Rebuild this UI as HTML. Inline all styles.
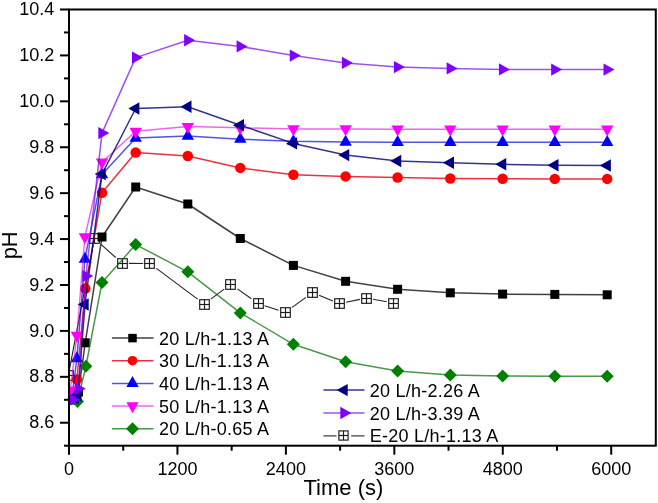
<!DOCTYPE html><html><head><meta charset="utf-8"><style>html,body{margin:0;padding:0;background:#fff;}body{width:658px;height:503px;overflow:hidden;}svg{display:block;font-family:"Liberation Sans",sans-serif;will-change:transform;}</style></head><body>
<svg width="658" height="503" viewBox="0 0 658 503">
<rect width="658" height="503" fill="#fff"/>
<g clip-path="url(#plotclip)">
<g stroke="#222" stroke-width="1.1"><line x1="69.56" y1="368.90" x2="93.14" y2="245.10"/><line x1="101.00" y1="244.39" x2="115.70" y2="257.51"/><line x1="128.90" y1="263.42" x2="143.20" y2="263.48"/><line x1="156.40" y1="268.43" x2="197.60" y2="299.17"/><line x1="210.80" y1="299.16" x2="224.20" y2="289.14"/><line x1="237.40" y1="288.88" x2="251.40" y2="298.82"/><line x1="264.60" y1="305.68" x2="278.60" y2="310.32"/><line x1="291.80" y1="307.66" x2="305.90" y2="297.34"/><line x1="319.10" y1="295.21" x2="332.90" y2="300.89"/><line x1="346.10" y1="302.23" x2="359.90" y2="299.37"/><line x1="373.10" y1="299.23" x2="386.70" y2="301.77"/></g>
<g fill="none" stroke="#1a1a1a" stroke-width="1.15"><rect x="63.70" y="370.70" width="9.6" height="9.6" fill="#fff"/><line x1="68.50" y1="370.70" x2="68.50" y2="380.30"/><line x1="63.70" y1="375.50" x2="73.30" y2="375.50"/></g>
<g fill="none" stroke="#1a1a1a" stroke-width="1.15"><rect x="89.70" y="233.70" width="9.6" height="9.6" fill="#fff"/><line x1="94.50" y1="233.70" x2="94.50" y2="243.30"/><line x1="89.70" y1="238.50" x2="99.30" y2="238.50"/></g>
<g fill="none" stroke="#1a1a1a" stroke-width="1.15"><rect x="117.70" y="258.70" width="9.6" height="9.6" fill="#fff"/><line x1="122.50" y1="258.70" x2="122.50" y2="268.30"/><line x1="117.70" y1="263.50" x2="127.30" y2="263.50"/></g>
<g fill="none" stroke="#1a1a1a" stroke-width="1.15"><rect x="144.70" y="258.70" width="9.6" height="9.6" fill="#fff"/><line x1="149.50" y1="258.70" x2="149.50" y2="268.30"/><line x1="144.70" y1="263.50" x2="154.30" y2="263.50"/></g>
<g fill="none" stroke="#1a1a1a" stroke-width="1.15"><rect x="199.70" y="299.70" width="9.6" height="9.6" fill="#fff"/><line x1="204.50" y1="299.70" x2="204.50" y2="309.30"/><line x1="199.70" y1="304.50" x2="209.30" y2="304.50"/></g>
<g fill="none" stroke="#1a1a1a" stroke-width="1.15"><rect x="225.70" y="279.70" width="9.6" height="9.6" fill="#fff"/><line x1="230.50" y1="279.70" x2="230.50" y2="289.30"/><line x1="225.70" y1="284.50" x2="235.30" y2="284.50"/></g>
<g fill="none" stroke="#1a1a1a" stroke-width="1.15"><rect x="253.70" y="298.70" width="9.6" height="9.6" fill="#fff"/><line x1="258.50" y1="298.70" x2="258.50" y2="308.30"/><line x1="253.70" y1="303.50" x2="263.30" y2="303.50"/></g>
<g fill="none" stroke="#1a1a1a" stroke-width="1.15"><rect x="280.70" y="307.70" width="9.6" height="9.6" fill="#fff"/><line x1="285.50" y1="307.70" x2="285.50" y2="317.30"/><line x1="280.70" y1="312.50" x2="290.30" y2="312.50"/></g>
<g fill="none" stroke="#1a1a1a" stroke-width="1.15"><rect x="307.70" y="287.70" width="9.6" height="9.6" fill="#fff"/><line x1="312.50" y1="287.70" x2="312.50" y2="297.30"/><line x1="307.70" y1="292.50" x2="317.30" y2="292.50"/></g>
<g fill="none" stroke="#1a1a1a" stroke-width="1.15"><rect x="334.70" y="298.70" width="9.6" height="9.6" fill="#fff"/><line x1="339.50" y1="298.70" x2="339.50" y2="308.30"/><line x1="334.70" y1="303.50" x2="344.30" y2="303.50"/></g>
<g fill="none" stroke="#1a1a1a" stroke-width="1.15"><rect x="361.70" y="293.70" width="9.6" height="9.6" fill="#fff"/><line x1="366.50" y1="293.70" x2="366.50" y2="303.30"/><line x1="361.70" y1="298.50" x2="371.30" y2="298.50"/></g>
<g fill="none" stroke="#1a1a1a" stroke-width="1.15"><rect x="388.70" y="298.70" width="9.6" height="9.6" fill="#fff"/><line x1="393.50" y1="298.70" x2="393.50" y2="308.30"/><line x1="388.70" y1="303.50" x2="398.30" y2="303.50"/></g>
<polyline points="73.00,400.00 78.50,392.00 85.20,342.80 102.00,237.00 135.70,187.00 187.80,204.00 240.30,238.50 293.40,265.40 345.60,281.30 397.60,289.30 450.30,292.80 502.60,294.10 554.80,294.40 607.20,294.80" fill="none" stroke="#000" stroke-opacity="0.75" stroke-width="1.5" stroke-linejoin="round"/>
<rect x="68.50" y="395.50" width="9" height="9" fill="#000"/>
<rect x="74.00" y="387.50" width="9" height="9" fill="#000"/>
<rect x="80.70" y="338.30" width="9" height="9" fill="#000"/>
<rect x="97.50" y="232.50" width="9" height="9" fill="#000"/>
<rect x="131.20" y="182.50" width="9" height="9" fill="#000"/>
<rect x="183.30" y="199.50" width="9" height="9" fill="#000"/>
<rect x="235.80" y="234.00" width="9" height="9" fill="#000"/>
<rect x="288.90" y="260.90" width="9" height="9" fill="#000"/>
<rect x="341.10" y="276.80" width="9" height="9" fill="#000"/>
<rect x="393.10" y="284.80" width="9" height="9" fill="#000"/>
<rect x="445.80" y="288.30" width="9" height="9" fill="#000"/>
<rect x="498.10" y="289.60" width="9" height="9" fill="#000"/>
<rect x="550.30" y="289.90" width="9" height="9" fill="#000"/>
<rect x="602.70" y="290.30" width="9" height="9" fill="#000"/>
<polyline points="72.50,399.00 76.90,379.40 85.30,288.60 102.00,192.70 135.70,152.50 187.80,156.00 240.30,167.90 293.40,174.80 345.60,176.40 397.60,177.50 450.30,178.50 502.60,178.80 554.80,178.90 607.20,178.90" fill="none" stroke="#e00010" stroke-opacity="0.8" stroke-width="1.5" stroke-linejoin="round"/>
<circle cx="72.50" cy="399.00" r="5.25" fill="#f00"/>
<circle cx="76.90" cy="379.40" r="5.25" fill="#f00"/>
<circle cx="85.30" cy="288.60" r="5.25" fill="#f00"/>
<circle cx="102.00" cy="192.70" r="5.25" fill="#f00"/>
<circle cx="135.70" cy="152.50" r="5.25" fill="#f00"/>
<circle cx="187.80" cy="156.00" r="5.25" fill="#f00"/>
<circle cx="240.30" cy="167.90" r="5.25" fill="#f00"/>
<circle cx="293.40" cy="174.80" r="5.25" fill="#f00"/>
<circle cx="345.60" cy="176.40" r="5.25" fill="#f00"/>
<circle cx="397.60" cy="177.50" r="5.25" fill="#f00"/>
<circle cx="450.30" cy="178.50" r="5.25" fill="#f00"/>
<circle cx="502.60" cy="178.80" r="5.25" fill="#f00"/>
<circle cx="554.80" cy="178.90" r="5.25" fill="#f00"/>
<circle cx="607.20" cy="178.90" r="5.25" fill="#f00"/>
<polyline points="72.00,396.00 76.90,358.50 84.90,259.00 102.00,174.50 135.70,138.00 187.80,136.00 240.30,139.20 293.40,141.30 345.60,142.00 397.60,142.30 450.30,142.30 502.60,142.30 554.80,142.30 607.20,142.30" fill="none" stroke="#0000d8" stroke-opacity="0.68" stroke-width="1.5" stroke-linejoin="round"/>
<polygon points="72.00,388.67 65.80,399.67 78.20,399.67" fill="#00f"/>
<polygon points="76.90,351.17 70.70,362.17 83.10,362.17" fill="#00f"/>
<polygon points="84.90,251.67 78.70,262.67 91.10,262.67" fill="#00f"/>
<polygon points="102.00,167.17 95.80,178.17 108.20,178.17" fill="#00f"/>
<polygon points="135.70,130.67 129.50,141.67 141.90,141.67" fill="#00f"/>
<polygon points="187.80,128.67 181.60,139.67 194.00,139.67" fill="#00f"/>
<polygon points="240.30,131.87 234.10,142.87 246.50,142.87" fill="#00f"/>
<polygon points="293.40,133.97 287.20,144.97 299.60,144.97" fill="#00f"/>
<polygon points="345.60,134.67 339.40,145.67 351.80,145.67" fill="#00f"/>
<polygon points="397.60,134.97 391.40,145.97 403.80,145.97" fill="#00f"/>
<polygon points="450.30,134.97 444.10,145.97 456.50,145.97" fill="#00f"/>
<polygon points="502.60,134.97 496.40,145.97 508.80,145.97" fill="#00f"/>
<polygon points="554.80,134.97 548.60,145.97 561.00,145.97" fill="#00f"/>
<polygon points="607.20,134.97 601.00,145.97 613.40,145.97" fill="#00f"/>
<polyline points="70.30,390.50 76.90,335.50 84.90,236.80 102.00,162.20 135.70,131.30 187.80,126.60 240.30,127.80 293.40,128.90 345.60,129.00 397.60,129.20 450.30,129.20 502.60,129.20 554.80,129.20 607.20,129.20" fill="none" stroke="#e000e0" stroke-opacity="0.6" stroke-width="1.5" stroke-linejoin="round"/>
<polygon points="70.30,397.83 64.10,386.83 76.50,386.83" fill="#f0f"/>
<polygon points="76.90,342.83 70.70,331.83 83.10,331.83" fill="#f0f"/>
<polygon points="84.90,244.13 78.70,233.13 91.10,233.13" fill="#f0f"/>
<polygon points="102.00,169.53 95.80,158.53 108.20,158.53" fill="#f0f"/>
<polygon points="135.70,138.63 129.50,127.63 141.90,127.63" fill="#f0f"/>
<polygon points="187.80,133.93 181.60,122.93 194.00,122.93" fill="#f0f"/>
<polygon points="240.30,135.13 234.10,124.13 246.50,124.13" fill="#f0f"/>
<polygon points="293.40,136.23 287.20,125.23 299.60,125.23" fill="#f0f"/>
<polygon points="345.60,136.33 339.40,125.33 351.80,125.33" fill="#f0f"/>
<polygon points="397.60,136.53 391.40,125.53 403.80,125.53" fill="#f0f"/>
<polygon points="450.30,136.53 444.10,125.53 456.50,125.53" fill="#f0f"/>
<polygon points="502.60,136.53 496.40,125.53 508.80,125.53" fill="#f0f"/>
<polygon points="554.80,136.53 548.60,125.53 561.00,125.53" fill="#f0f"/>
<polygon points="607.20,136.53 601.00,125.53 613.40,125.53" fill="#f0f"/>
<polyline points="77.50,401.50 85.90,366.30 102.00,282.50 135.70,244.60 187.80,271.80 240.30,312.90 293.40,344.30 345.60,361.80 397.60,371.00 450.30,374.90 502.60,376.00 554.80,376.20 607.20,376.20" fill="none" stroke="#007000" stroke-opacity="0.72" stroke-width="1.5" stroke-linejoin="round"/>
<polygon points="77.50,395.00 84.00,401.50 77.50,408.00 71.00,401.50" fill="#008000"/>
<polygon points="85.90,359.80 92.40,366.30 85.90,372.80 79.40,366.30" fill="#008000"/>
<polygon points="102.00,276.00 108.50,282.50 102.00,289.00 95.50,282.50" fill="#008000"/>
<polygon points="135.70,238.10 142.20,244.60 135.70,251.10 129.20,244.60" fill="#008000"/>
<polygon points="187.80,265.30 194.30,271.80 187.80,278.30 181.30,271.80" fill="#008000"/>
<polygon points="240.30,306.40 246.80,312.90 240.30,319.40 233.80,312.90" fill="#008000"/>
<polygon points="293.40,337.80 299.90,344.30 293.40,350.80 286.90,344.30" fill="#008000"/>
<polygon points="345.60,355.30 352.10,361.80 345.60,368.30 339.10,361.80" fill="#008000"/>
<polygon points="397.60,364.50 404.10,371.00 397.60,377.50 391.10,371.00" fill="#008000"/>
<polygon points="450.30,368.40 456.80,374.90 450.30,381.40 443.80,374.90" fill="#008000"/>
<polygon points="502.60,369.50 509.10,376.00 502.60,382.50 496.10,376.00" fill="#008000"/>
<polygon points="554.80,369.70 561.30,376.20 554.80,382.70 548.30,376.20" fill="#008000"/>
<polygon points="607.20,369.70 613.70,376.20 607.20,382.70 600.70,376.20" fill="#008000"/>
<polyline points="75.00,398.00 77.90,395.30 85.00,304.50 102.00,174.10 135.70,108.50 187.80,106.80 240.30,125.20 293.40,143.40 345.60,155.10 397.60,161.00 450.30,162.80 502.60,164.30 554.80,165.20 607.20,165.50" fill="none" stroke="#000070" stroke-opacity="0.8" stroke-width="1.5" stroke-linejoin="round"/>
<polygon points="67.67,398.00 78.67,391.80 78.67,404.20" fill="#000080"/>
<polygon points="70.57,395.30 81.57,389.10 81.57,401.50" fill="#000080"/>
<polygon points="77.67,304.50 88.67,298.30 88.67,310.70" fill="#000080"/>
<polygon points="94.67,174.10 105.67,167.90 105.67,180.30" fill="#000080"/>
<polygon points="128.37,108.50 139.37,102.30 139.37,114.70" fill="#000080"/>
<polygon points="180.47,106.80 191.47,100.60 191.47,113.00" fill="#000080"/>
<polygon points="232.97,125.20 243.97,119.00 243.97,131.40" fill="#000080"/>
<polygon points="286.07,143.40 297.07,137.20 297.07,149.60" fill="#000080"/>
<polygon points="338.27,155.10 349.27,148.90 349.27,161.30" fill="#000080"/>
<polygon points="390.27,161.00 401.27,154.80 401.27,167.20" fill="#000080"/>
<polygon points="442.97,162.80 453.97,156.60 453.97,169.00" fill="#000080"/>
<polygon points="495.27,164.30 506.27,158.10 506.27,170.50" fill="#000080"/>
<polygon points="547.47,165.20 558.47,159.00 558.47,171.40" fill="#000080"/>
<polygon points="599.87,165.50 610.87,159.30 610.87,171.70" fill="#000080"/>
<polyline points="73.00,399.70 78.40,388.80 85.90,276.10 102.00,133.10 135.70,57.60 187.80,40.20 240.30,46.40 293.40,55.60 345.60,62.90 397.60,67.10 450.30,68.40 502.60,69.40 554.80,69.60 607.20,69.60" fill="none" stroke="#7000e0" stroke-opacity="0.68" stroke-width="1.5" stroke-linejoin="round"/>
<polygon points="80.33,399.70 69.33,393.50 69.33,405.90" fill="#8000ff"/>
<polygon points="85.73,388.80 74.73,382.60 74.73,395.00" fill="#8000ff"/>
<polygon points="93.23,276.10 82.23,269.90 82.23,282.30" fill="#8000ff"/>
<polygon points="109.33,133.10 98.33,126.90 98.33,139.30" fill="#8000ff"/>
<polygon points="143.03,57.60 132.03,51.40 132.03,63.80" fill="#8000ff"/>
<polygon points="195.13,40.20 184.13,34.00 184.13,46.40" fill="#8000ff"/>
<polygon points="247.63,46.40 236.63,40.20 236.63,52.60" fill="#8000ff"/>
<polygon points="300.73,55.60 289.73,49.40 289.73,61.80" fill="#8000ff"/>
<polygon points="352.93,62.90 341.93,56.70 341.93,69.10" fill="#8000ff"/>
<polygon points="404.93,67.10 393.93,60.90 393.93,73.30" fill="#8000ff"/>
<polygon points="457.63,68.40 446.63,62.20 446.63,74.60" fill="#8000ff"/>
<polygon points="509.93,69.40 498.93,63.20 498.93,75.60" fill="#8000ff"/>
<polygon points="562.13,69.60 551.13,63.40 551.13,75.80" fill="#8000ff"/>
<polygon points="614.53,69.60 603.53,63.40 603.53,75.80" fill="#8000ff"/>
</g>
<rect x="69.0" y="9.5" width="586.8" height="436.20" fill="none" stroke="#000" stroke-width="2"/>
<g stroke="#000" stroke-width="2"><line x1="60.0" y1="9.50" x2="69.0" y2="9.50"/><line x1="64.0" y1="32.46" x2="69.0" y2="32.46"/><line x1="60.0" y1="55.42" x2="69.0" y2="55.42"/><line x1="64.0" y1="78.37" x2="69.0" y2="78.37"/><line x1="60.0" y1="101.33" x2="69.0" y2="101.33"/><line x1="64.0" y1="124.29" x2="69.0" y2="124.29"/><line x1="60.0" y1="147.25" x2="69.0" y2="147.25"/><line x1="64.0" y1="170.21" x2="69.0" y2="170.21"/><line x1="60.0" y1="193.16" x2="69.0" y2="193.16"/><line x1="64.0" y1="216.12" x2="69.0" y2="216.12"/><line x1="60.0" y1="239.08" x2="69.0" y2="239.08"/><line x1="64.0" y1="262.04" x2="69.0" y2="262.04"/><line x1="60.0" y1="285.00" x2="69.0" y2="285.00"/><line x1="64.0" y1="307.95" x2="69.0" y2="307.95"/><line x1="60.0" y1="330.91" x2="69.0" y2="330.91"/><line x1="64.0" y1="353.87" x2="69.0" y2="353.87"/><line x1="60.0" y1="376.83" x2="69.0" y2="376.83"/><line x1="64.0" y1="399.79" x2="69.0" y2="399.79"/><line x1="60.0" y1="422.74" x2="69.0" y2="422.74"/><line x1="64.0" y1="445.70" x2="69.0" y2="445.70"/><line x1="69.00" y1="445.70" x2="69.00" y2="454.70"/><line x1="123.22" y1="445.70" x2="123.22" y2="450.70"/><line x1="177.44" y1="445.70" x2="177.44" y2="454.70"/><line x1="231.67" y1="445.70" x2="231.67" y2="450.70"/><line x1="285.89" y1="445.70" x2="285.89" y2="454.70"/><line x1="340.11" y1="445.70" x2="340.11" y2="450.70"/><line x1="394.33" y1="445.70" x2="394.33" y2="454.70"/><line x1="448.55" y1="445.70" x2="448.55" y2="450.70"/><line x1="502.78" y1="445.70" x2="502.78" y2="454.70"/><line x1="557.00" y1="445.70" x2="557.00" y2="450.70"/><line x1="611.22" y1="445.70" x2="611.22" y2="454.70"/></g>
<g font-size="18" fill="#000"><text x="54.2" y="15.10" text-anchor="end">10.4</text><text x="54.2" y="61.02" text-anchor="end">10.2</text><text x="54.2" y="106.93" text-anchor="end">10.0</text><text x="54.2" y="152.85" text-anchor="end">9.8</text><text x="54.2" y="198.76" text-anchor="end">9.6</text><text x="54.2" y="244.68" text-anchor="end">9.4</text><text x="54.2" y="290.60" text-anchor="end">9.2</text><text x="54.2" y="336.51" text-anchor="end">9.0</text><text x="54.2" y="382.43" text-anchor="end">8.8</text><text x="54.2" y="428.34" text-anchor="end">8.6</text><text x="69.00" y="475.0" text-anchor="middle">0</text><text x="177.44" y="475.0" text-anchor="middle">1200</text><text x="285.89" y="475.0" text-anchor="middle">2400</text><text x="394.33" y="475.0" text-anchor="middle">3600</text><text x="502.78" y="475.0" text-anchor="middle">4800</text><text x="611.22" y="475.0" text-anchor="middle">6000</text></g>
<text x="303.5" y="495.3" font-size="22" fill="#000">Time (s)</text>
<text transform="translate(17.1,245.3) rotate(-90)" text-anchor="middle" font-size="22" fill="#000">pH</text>
<line x1="111.9" y1="338.1" x2="153.5" y2="338.1" stroke="#000" stroke-opacity="0.75" stroke-width="1.5"/>
<rect x="128.25" y="333.85" width="8.5" height="8.5" fill="#000"/>
<text x="159.1" y="344.60" font-size="18" letter-spacing="0.24" fill="#000">20 L/h-1.13 A</text>
<line x1="111.9" y1="360.7" x2="153.5" y2="360.7" stroke="#e00010" stroke-opacity="0.8" stroke-width="1.5"/>
<circle cx="132.50" cy="360.70" r="4.8" fill="#f00"/>
<text x="159.1" y="367.20" font-size="18" letter-spacing="0.24" fill="#000">30 L/h-1.13 A</text>
<line x1="111.9" y1="383.4" x2="153.5" y2="383.4" stroke="#0000d8" stroke-opacity="0.68" stroke-width="1.5"/>
<polygon points="132.50,376.07 126.30,387.07 138.70,387.07" fill="#00f"/>
<text x="159.1" y="389.90" font-size="18" letter-spacing="0.24" fill="#000">40 L/h-1.13 A</text>
<line x1="111.9" y1="406.0" x2="153.5" y2="406.0" stroke="#e000e0" stroke-opacity="0.6" stroke-width="1.5"/>
<polygon points="132.50,413.33 126.30,402.33 138.70,402.33" fill="#f0f"/>
<text x="159.1" y="412.50" font-size="18" letter-spacing="0.24" fill="#000">50 L/h-1.13 A</text>
<line x1="111.9" y1="428.7" x2="153.5" y2="428.7" stroke="#007000" stroke-opacity="0.72" stroke-width="1.5"/>
<polygon points="132.50,422.20 139.00,428.70 132.50,435.20 126.00,428.70" fill="#008000"/>
<text x="159.1" y="435.20" font-size="18" letter-spacing="0.24" fill="#000">20 L/h-0.65 A</text>
<line x1="323.4" y1="390.1" x2="364.5" y2="390.1" stroke="#000070" stroke-opacity="0.8" stroke-width="1.5"/>
<polygon points="336.67,390.10 347.67,383.90 347.67,396.30" fill="#000080"/>
<text x="369.8" y="396.60" font-size="18" letter-spacing="0.24" fill="#000">20 L/h-2.26 A</text>
<line x1="323.4" y1="413.0" x2="364.5" y2="413.0" stroke="#7000e0" stroke-opacity="0.68" stroke-width="1.5"/>
<polygon points="351.33,413.00 340.33,406.80 340.33,419.20" fill="#8000ff"/>
<text x="369.8" y="419.50" font-size="18" letter-spacing="0.24" fill="#000">20 L/h-3.39 A</text>
<g stroke="#222" stroke-width="1.1"><line x1="323.4" y1="435.9" x2="336.5" y2="435.9"/><line x1="351.2" y1="435.9" x2="364.5" y2="435.9"/></g>
<g fill="none" stroke="#1a1a1a" stroke-width="1.15"><rect x="338.90" y="430.90" width="9.2" height="9.2" fill="#fff"/><line x1="343.50" y1="430.90" x2="343.50" y2="440.10"/><line x1="338.90" y1="435.50" x2="348.10" y2="435.50"/></g>
<text x="369.8" y="442.40" font-size="18" letter-spacing="0.24" fill="#000">E-20 L/h-1.13 A</text>
<defs><clipPath id="plotclip"><rect x="69" y="9" width="587" height="437"/></clipPath></defs>
</svg></body></html>
